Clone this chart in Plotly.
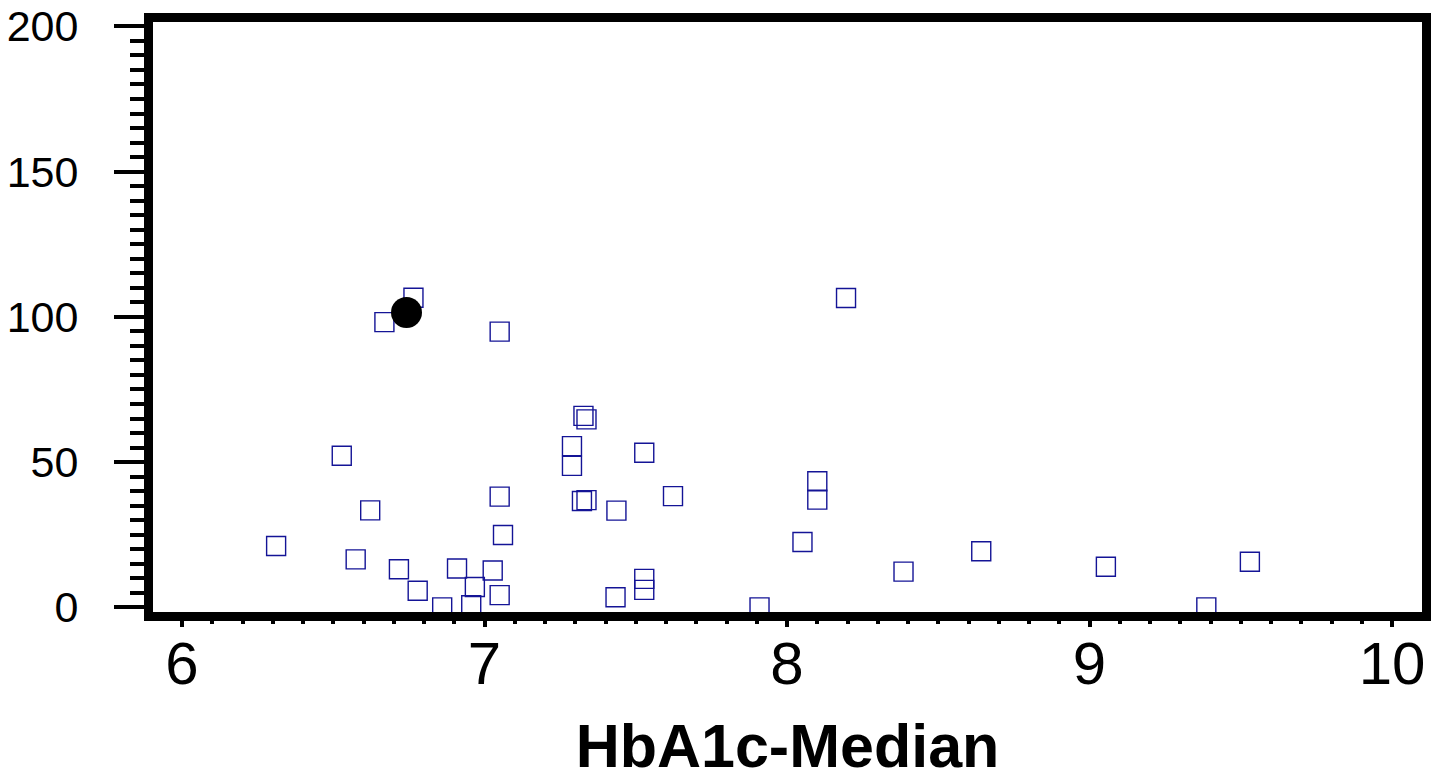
import plotly.graph_objects as go

# HbA1c median vs. value (open squares), highlighted point as filled circle
hba1c = [6.311, 6.528, 6.574, 6.622, 6.669, 6.717, 6.765, 6.779, 6.860, 6.909,
         6.956, 6.968, 7.027, 7.050, 7.050, 7.061, 7.050, 7.289, 7.289, 7.327,
         7.337, 7.322, 7.337, 7.436, 7.433, 7.528, 7.528, 7.528, 7.623, 7.909,
         8.051, 8.100, 8.100, 8.195, 8.385, 8.642, 9.054, 9.386, 9.530]
werte = [21.1, 52.2, 16.5, 33.4, 98.2, 13.1, 106.6, 5.7, 0.0, 13.4,
         0.7, 7.0, 12.7, 4.2, 38.1, 24.9, 94.9, 55.5, 48.7, 65.9,
         64.7, 36.6, 36.9, 33.3, 3.5, 53.2, 9.8, 6.0, 38.3, 0.0,
         22.5, 43.4, 37.1, 106.5, 12.3, 19.3, 14.0, 0.0, 15.7]

punkt_x = [6.742]
punkt_y = [101.5]

fig = go.Figure()

fig.add_trace(go.Scatter(
    x=hba1c, y=werte, mode='markers',
    marker=dict(symbol='square-open', size=19, color='rgb(20,20,150)',
                line=dict(width=1.4, color='rgb(20,20,150)')),
    showlegend=False))

fig.add_trace(go.Scatter(
    x=punkt_x, y=punkt_y, mode='markers',
    marker=dict(symbol='circle', size=31, color='black'),
    showlegend=False))

fig.update_layout(
    width=1440, height=774,
    margin=dict(l=145, r=26, t=14, b=170),
    plot_bgcolor='white', paper_bgcolor='white',
    font=dict(family='Arial, Liberation Sans, sans-serif', color='black'),
    xaxis=dict(
        range=[5.904, 10.099], showgrid=False, zeroline=False, automargin=False,
        showline=True, linewidth=9, linecolor='black', mirror=True,
        tickmode='linear', tick0=6, dtick=1,
        ticks='outside', ticklen=6, tickwidth=4, tickcolor='black',
        minor=dict(dtick=0.1, ticks='outside', ticklen=3, tickwidth=4, tickcolor='black'),
        tickfont=dict(size=60), ticklabelstandoff=-15, ticklabeloverflow='allow',
        title=dict(text='<b>HbA1c-Median</b>', font=dict(size=61), standoff=32),
    ),
    yaxis=dict(
        range=[-1.6, 201.5], showgrid=False, zeroline=False, automargin=False,
        showline=True, linewidth=9, linecolor='black', mirror=True,
        tickmode='linear', tick0=0, dtick=50,
        ticks='outside', ticklen=30, tickwidth=4, tickcolor='black',
        minor=dict(dtick=5, ticks='outside', ticklen=14, tickwidth=4, tickcolor='black'),
        tickfont=dict(size=43), ticklabelstandoff=27, ticklabeloverflow='allow',
    ),
)

fig.write_html("out.html")
